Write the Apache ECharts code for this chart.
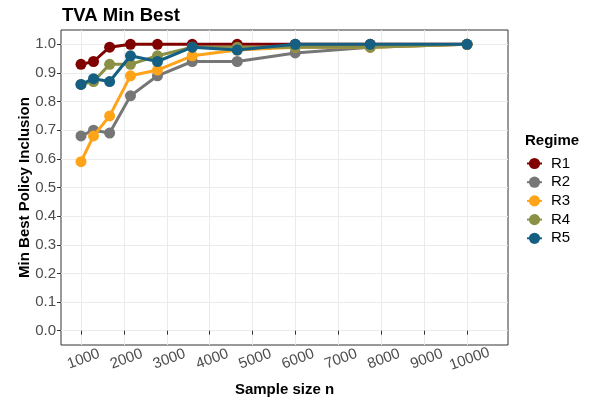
<!DOCTYPE html>
<html><head><meta charset="utf-8">
<script src="https://cdn.jsdelivr.net/npm/echarts@6/dist/echarts.min.js"></script>
<style>html,body{margin:0;padding:0;background:#fff}#c{width:591px;height:402px}</style>
</head><body><div id="c"></div>
<script>
const sampleSizes = [1000, 1292, 1668, 2154, 2783, 3594, 4642, 5995, 7743, 10000];
const regimes = ['R1', 'R2', 'R3', 'R4', 'R5'];
const R1 = [0.93, 0.94, 0.99, 1.00, 1.00, 1.00, 1.00, 1.00, 1.00, 1.00];
const R2 = [0.68, 0.70, 0.69, 0.82, 0.89, 0.94, 0.94, 0.97, 0.99, 1.00];
const R3 = [0.59, 0.68, 0.75, 0.89, 0.91, 0.96, 0.98, 0.99, 0.99, 1.00];
const R4 = [0.86, 0.87, 0.93, 0.93, 0.96, 0.99, 0.99, 0.99, 0.99, 1.00];
const R5 = [0.86, 0.88, 0.87, 0.96, 0.94, 0.99, 0.98, 1.00, 1.00, 1.00];
const xTicks = [1000, 2000, 3000, 4000, 5000, 6000, 7000, 8000, 9000, 10000];
const yTicks = [0.0, 0.1, 0.2, 0.3, 0.4, 0.5, 0.6, 0.7, 0.8, 0.9, 1.0];
const colors = ['#800000', '#767676', '#FFA319', '#8A9045', '#155F83'];
const seriesValues = [R1, R2, R3, R4, R5];

const font = 'Liberation Sans, Arial, sans-serif';
const chart = echarts.init(document.getElementById('c'), null, {renderer: 'canvas'});
chart.setOption({
  animation: false,
  textStyle: {fontFamily: font},
  title: [
    {text: 'TVA Min Best', left: 57, top: 1, textStyle: {fontFamily: font, fontWeight: 'bold', fontSize: 18.5, color: '#000'}},
    {text: 'Regime', left: 520, top: 128, textStyle: {fontFamily: font, fontWeight: 'bold', fontSize: 15, color: '#000'}}
  ],
  legend: {
    orient: 'vertical', left: 521, top: 151, itemGap: 3.7, itemWidth: 15, itemHeight: 14,
    textStyle: {fontFamily: font, fontSize: 15, color: '#000', padding: [0, 0, 0, 4]},
    data: regimes
  },
  grid: {left: 61, right: 83, top: 30, bottom: 57, show: true, borderColor: '#333', borderWidth: 1, backgroundColor: '#fff'},
  xAxis: {
    type: 'value', min: 534, max: 10955,
    name: 'Sample size n', nameLocation: 'middle', nameGap: 37, nameMoveOverlap: false,
    nameTextStyle: {fontFamily: font, fontWeight: 'bold', fontSize: 15, color: '#000'},
    axisLine: {show: false},
    axisTick: {show: true, customValues: xTicks, length: 4, lineStyle: {color: '#333'}},
    axisLabel: {customValues: xTicks, rotate: 20, align: 'center', verticalAlign: 'top', fontSize: 15, color: '#4d4d4d', fontFamily: font, margin: 7,
      formatter: v => String(v)},
    splitLine: {show: true, lineStyle: {color: '#ebebeb', width: 1}}
  },
  yAxis: {
    type: 'value', min: -0.05, max: 1.05,
    name: 'Min Best Policy Inclusion', nameLocation: 'middle', nameGap: 29, nameMoveOverlap: false,
    nameTextStyle: {fontFamily: font, fontWeight: 'bold', fontSize: 15, color: '#000'},
    axisLine: {show: false},
    axisTick: {show: true, customValues: yTicks, length: 4, lineStyle: {color: '#333'}},
    axisLabel: {customValues: yTicks, fontSize: 15, color: '#4d4d4d', fontFamily: font, margin: 5,
      formatter: v => v.toFixed(1)},
    splitLine: {show: true, lineStyle: {color: '#ebebeb', width: 1}}
  },
  series: regimes.map((r, i) => ({
    name: r, type: 'line',
    data: sampleSizes.map((x, j) => [x, seriesValues[i][j]]),
    symbol: 'circle', symbolSize: 11,
    itemStyle: {color: colors[i]},
    lineStyle: {color: colors[i], width: 3},
    z: 2 + i
  }))
});
</script></body></html>
